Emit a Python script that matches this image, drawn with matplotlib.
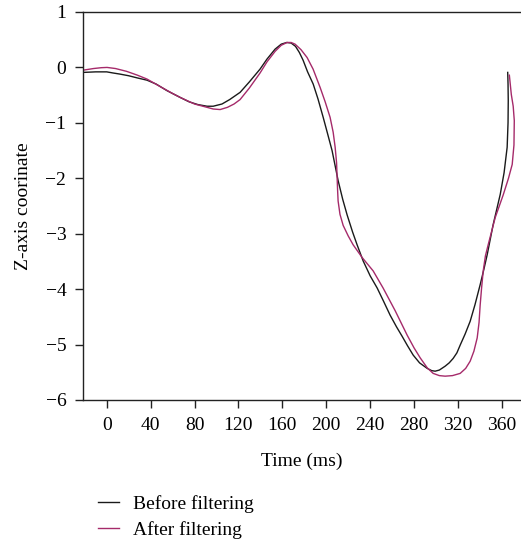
import matplotlib
matplotlib.use("Agg")
import matplotlib.pyplot as plt

plt.rcParams['font.family'] = ['Liberation Serif', 'DejaVu Serif']

# Data (time in ms, Z-axis coordinate)
before_t = [-21.6, -10.0, 0.0, 5.7, 12.0, 20.0, 28.0, 36.7, 45.0, 55.0, 66.8, 75.0,
            83.0, 91.4, 97.0, 105.0, 112.0, 121.5, 130.0, 139.7, 146.0, 153.4,
            159.0, 164.0, 168.0, 172.0, 175.5, 178.9, 183.0, 188.1, 192.5, 197.2,
            201.0, 205.3, 210.8, 215.0, 219.0, 224.0, 228.1, 233.6, 240.0, 246.4,
            252.0, 258.2, 264.0, 269.1, 274.0, 279.2, 285.0, 292.0, 296.0, 299.2,
            303.0, 308.3, 312.0, 315.6, 319.0, 322.0, 326.5, 331.1, 335.5, 340.2,
            343.5, 346.6, 352.0, 358.5, 362.0, 364.8, 365.6, 365.8, 365.6, 365.3]
before_z = [-0.09, -0.08, -0.08, -0.10, -0.12, -0.15, -0.19, -0.23, -0.30, -0.42,
            -0.54, -0.62, -0.67, -0.70, -0.70, -0.66, -0.58, -0.45, -0.26, -0.03,
            0.15, 0.33, 0.42, 0.45, 0.44, 0.38, 0.27, 0.13, -0.08, -0.30, -0.57,
            -0.90, -1.18, -1.50, -2.04, -2.38, -2.66, -2.97, -3.20, -3.49, -3.76,
            -3.98, -4.21, -4.47, -4.68, -4.85, -5.02, -5.19, -5.33, -5.43, -5.47,
            -5.48, -5.46, -5.39, -5.33, -5.25, -5.15, -5.01, -4.81, -4.58, -4.28,
            -3.92, -3.65, -3.38, -2.84, -2.29, -1.90, -1.44, -1.00, -0.60, -0.30,
            -0.09]

after_t = [-21.6, -12.0, -5.0, 0.3, 8.0, 18.0, 28.0, 36.7, 50.0, 60.0, 66.8, 80.0,
           91.4, 97.0, 103.3, 110.0, 116.0, 121.5, 130.0, 139.7, 146.0, 153.4, 159.0,
           164.3, 168.0, 171.6, 177.0, 182.5, 188.0, 194.4, 199.0, 203.5, 206.3,
           208.1, 209.4, 209.9, 210.3, 210.8, 212.5, 215.4, 220.0, 224.5, 232.7,
           242.7, 251.8, 262.8, 273.7, 280.0, 285.6, 292.0, 297.4, 303.0, 308.3,
           315.0, 322.0, 327.0, 331.1, 334.5, 337.5, 339.2, 340.2, 341.5, 343.0,
           345.0, 347.5, 353.9, 361.2, 366.0, 369.4, 371.0, 371.3, 370.3, 368.6,
           366.8]
after_z = [-0.05, -0.02, -0.005, 0.0, -0.02, -0.07, -0.14, -0.21, -0.36, -0.47,
           -0.54, -0.66, -0.72, -0.75, -0.76, -0.72, -0.66, -0.58, -0.37, -0.10,
           0.10, 0.29, 0.40, 0.45, 0.45, 0.42, 0.32, 0.18, -0.03, -0.36, -0.62,
           -0.90, -1.17, -1.44, -1.72, -1.99, -2.20, -2.41, -2.65, -2.85, -3.04,
           -3.20, -3.43, -3.67, -3.98, -4.39, -4.83, -5.06, -5.24, -5.42, -5.52,
           -5.56, -5.57, -5.56, -5.52, -5.43, -5.30, -5.12, -4.88, -4.60, -4.29,
           -3.98, -3.67, -3.40, -3.20, -2.71, -2.30, -2.00, -1.75, -1.40, -0.96,
           -0.70, -0.49, -0.14]

x_ticks = [0, 40, 80, 120, 160, 200, 240, 280, 320, 360]
y_ticks = [1, 0, -1, -2, -3, -4, -5, -6]

fig = plt.figure(figsize=(5.21, 5.40), dpi=100)
ax = fig.add_axes([83/521, 1 - 400/540, (520 - 83)/521, (400 - 12)/540])

ax.plot(before_t, before_z, color='#1a1a1a', lw=1.0, label='Before filtering')
ax.plot(after_t, after_z, color='#a52a6a', lw=1.0, label='After filtering')

ax.set_xlim(-21.6, 376.5)
ax.set_ylim(-6, 1)
ax.set_xticks(x_ticks)
ax.set_xticklabels([str(v) for v in x_ticks])
ax.set_yticks(y_ticks)
ax.set_yticklabels([str(v).replace('-', '\u2212') for v in y_ticks])

for s in ['left', 'top', 'bottom']:
    ax.spines[s].set_linewidth(1.0)
    ax.spines[s].set_color('#222222')
ax.spines['right'].set_visible(False)

ax.tick_params(axis='both', direction='out', length=6, width=1.0, color='#222222',
               labelsize=14, pad=6)
ax.set_xlabel('Time (ms)', fontsize=14, labelpad=14)
ax.set_ylabel('Z-axis coorinate', fontsize=14, labelpad=10)

fig.legend(loc='upper left', bbox_to_anchor=(90/521, 1 - 487/540), frameon=False,
           fontsize=14, handlelength=1.1, handletextpad=0.7, labelspacing=0.45,
           borderaxespad=0)

fig.savefig('out.png', dpi=100)
